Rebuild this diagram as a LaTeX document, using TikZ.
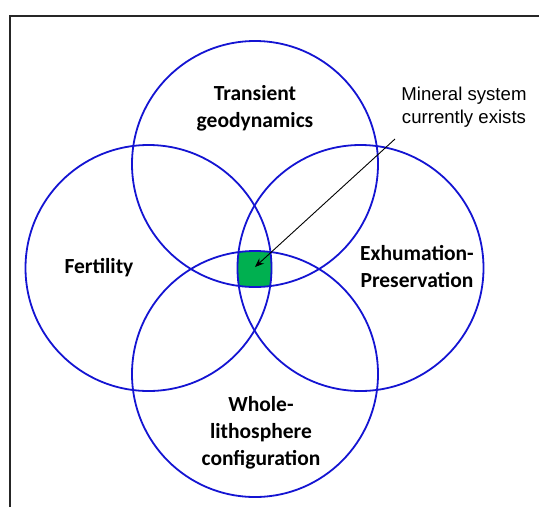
\documentclass[tikz,border=0pt]{standalone}
\usepackage{fontspec}
\setmainfont{Carlito}
\newfontfamily\arialf{Liberation Sans}
\usetikzlibrary{arrows.meta}
\definecolor{vblue}{RGB}{20,20,210}
\definecolor{vgreen}{RGB}{0,176,80}
\tikzset{
  ring/.style={circle, draw=vblue, line width=1.8pt, minimum size=246pt, inner sep=0pt},
  lbl/.style={font=\fontsize{21.5}{27}\selectfont\bfseries, align=center, text=black},
  note/.style={font=\arialf\fontsize{18.6}{23}\selectfont, align=center, text=black},
}
\begin{document}
\begin{tikzpicture}[x=1pt,y=-1pt]
\useasboundingbox (0,0) rectangle (539,507);
\draw[line width=1.1pt, black!85] (10,507) -- (10,16) -- (539,16);
% green intersection
\begin{scope}
  \clip (255,164) circle[radius=123pt];
  \clip (255,374) circle[radius=123pt];
  \clip (148.5,268) circle[radius=123pt];
  \fill[vgreen] (360.5,268) circle[radius=123pt];
\end{scope}
\node[ring] (top) at (255,164) {};
\node[ring] (left) at (148.5,268) {};
\node[ring] (right) at (360.5,268) {};
\node[ring] (bottom) at (255,374) {};
\node[lbl] (tl) at (255,108) {Transient\\geodynamics};
\node[lbl] (fl) at (99,268) {Fertility};
\node[lbl] (el) at (417,267) {Exhumation-\\Preservation};
\node[lbl] (wl) at (261,433) {Whole-\\lithosphere\\configuration};
\node[note] (ml) at (464,107) {Mineral system\\currently exists};
\coordinate (core) at (255,267);
\draw[-{Stealth[length=9pt,width=7pt]}, line width=0.9pt] (395,139) -- (core);
\end{tikzpicture}
\end{document}
